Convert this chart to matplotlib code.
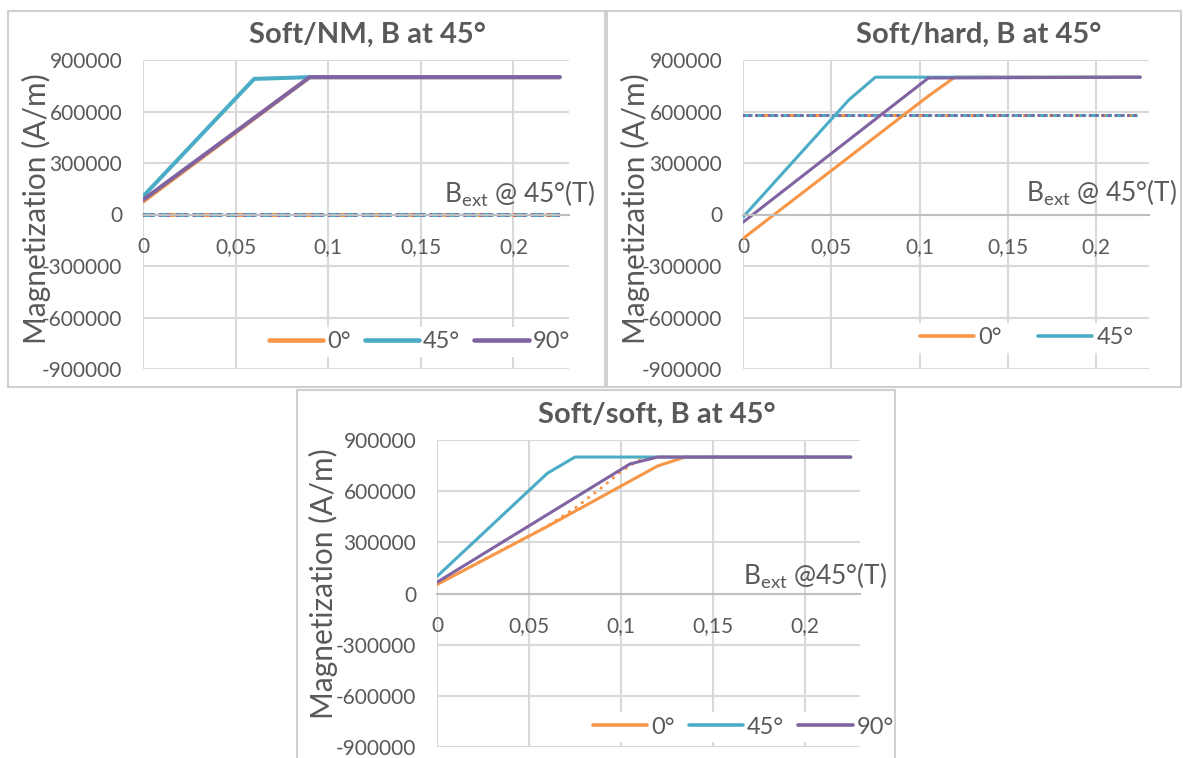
import matplotlib
matplotlib.use("Agg")
import matplotlib.pyplot as plt
from matplotlib.patches import Rectangle

plt.rcParams['font.family'] = ['Lato', 'DejaVu Sans']
plt.rcParams['mathtext.fontset'] = 'custom'
plt.rcParams['mathtext.rm'] = 'Lato'
plt.rcParams['mathtext.it'] = 'Lato'

GRIS = "#595959"
REJILLA = "#D9D9D9"
NARANJA = "#F79646"
TURQUESA = "#4BACC6"
MORADO = "#8064A2"

# Soft/NM
nm_x0 = [0, 0.09, 0.225]
nm_y0 = [75000, 800000, 800000]
nm_x45 = [0, 0.06, 0.09, 0.225]
nm_y45 = [105000, 790000, 800000, 800000]
nm_x90 = [0, 0.09, 0.225]
nm_y90 = [85000, 800000, 800000]
nm_ref = 0

# Soft/hard
hd_x0 = [0, 0.105, 0.12, 0.225]
hd_y0 = [-140000, 690000, 800000, 800000]
hd_x45 = [0, 0.06, 0.075, 0.225]
hd_y45 = [-15000, 668000, 800000, 800000]
hd_x90 = [0, 0.105, 0.225]
hd_y90 = [-45000, 795000, 800000]
hd_ref = 580000

# Soft/soft
sf_x0 = [0, 0.06, 0.12, 0.135, 0.225]
sf_y0 = [53000, 393000, 748000, 800000, 800000]
sf_x0b = [0, 0.06, 0.075, 0.09, 0.1, 0.105, 0.112, 0.12, 0.225]
sf_y0b = [53000, 395000, 500000, 625000, 715000, 750000, 795000, 800000, 800000]
sf_x45 = [0, 0.06, 0.075, 0.225]
sf_y45 = [100000, 705000, 800000, 800000]
sf_x90 = [0, 0.105, 0.12, 0.225]
sf_y90 = [66000, 760000, 800000, 800000]

ejex = [0, 0.05, 0.1, 0.15, 0.2]
ejex_txt = ["0", "0,05", "0,1", "0,15", "0,2"]
ejey = [-900000, -600000, -300000, 0, 300000, 600000, 900000]
ejey_txt = ["-900000", "-600000", "-300000", "0", "300000", "600000", "900000"]

W, H = 1183, 758
fig = plt.figure(figsize=(W / 100, H / 100), dpi=100)


def fx(px):
	return px / W


def fy(py):
	return 1 - py / H


# marcos de cada grafico
for (x1, y1, x2, y2) in [(8, 11, 605, 387), (607, 11, 1181, 387), (297, 390, 895, 770)]:
	fig.add_artist(Rectangle((fx(x1), fy(y2)), fx(x2 - x1), (y2 - y1) / H,
		transform=fig.transFigure, fill=False, edgecolor="#D0D0D0", lw=1.5))


def grafico(caja, titulo, tpos, ypos, bpos, btxt, series, ref, lw, leg, colsp, nleg):
	ax = fig.add_axes([fx(caja[0]), fy(caja[3]), fx(caja[2] - caja[0]), (caja[3] - caja[1]) / H])
	ax.set_xlim(0, 0.23)
	ax.set_ylim(-900000, 900000)
	ax.set_xticks(ejex, ejex_txt)
	ax.set_yticks(ejey, ejey_txt)
	ax.grid(True, color=REJILLA, lw=1.5)
	ax.set_axisbelow(True)
	for s in ["top", "right", "left"]:
		ax.spines[s].set_visible(False)
	ax.spines["bottom"].set_position(("data", 0))
	ax.spines["bottom"].set_color("#BFBFBF")
	ax.spines["bottom"].set_linewidth(1.5)
	ax.tick_params(axis="both", length=0, labelsize=15, labelcolor=GRIS)
	ax.tick_params(axis="x", pad=16)
	ax.tick_params(axis="y", pad=15)

	if ref is not None:
		xr = [0, 0.225]
		ax.plot(xr, [ref, ref], color=TURQUESA, lw=lw, ls=(0, (3, 1.2)))
		ax.plot(xr, [ref, ref], color=NARANJA, lw=lw, ls=(2, (1.5, 7)))
		ax.plot(xr, [ref, ref], color=MORADO, lw=lw, ls=(0, (0.1, 2.0)), dash_capstyle="round")

	lineas = []
	for (xs, ys, c, nombre, estilo) in series:
		if estilo == "punteado":
			ax.plot(xs, ys, color=c, lw=lw, ls=(0, (0.1, 2.5)), dash_capstyle="round")
		else:
			l, = ax.plot(xs, ys, color=c, lw=lw, label=nombre, solid_capstyle="round")
			lineas.append(l)

	lg = ax.legend(lineas[:nleg], [l.get_label() for l in lineas[:nleg]], ncol=nleg,
		loc="center left", bbox_to_anchor=(fx(leg[0]), fy(leg[1])), bbox_transform=fig.transFigure,
		frameon=True, facecolor="white", edgecolor="none", framealpha=1, fancybox=False,
		fontsize=17, handlelength=2.3, handletextpad=0.17, columnspacing=colsp,
		borderpad=0.2, borderaxespad=0)
	for t in lg.get_texts():
		t.set_color(GRIS)
	for h in lg.get_lines():
		h.set_linewidth(lw + 0.4)

	fig.text(fx(tpos[0]), fy(tpos[1]), titulo, ha="center", va="center", fontsize=21,
		fontweight="bold", color=GRIS)
	fig.text(fx(ypos[0]), fy(ypos[1]), "Magnetization (A/m)", ha="center", va="center",
		rotation=90, fontsize=21.5, color=GRIS)
	fig.text(fx(bpos[0]), fy(bpos[1]), btxt, ha="right", va="baseline", fontsize=19, color=GRIS)
	return ax


grafico((143, 60, 569, 369), "Soft/NM, B at 45°", (367, 35), (36, 209), (595, 203),
	r"B$_{\rm ext}$ @ 45°(T)",
	[(nm_x0, nm_y0, NARANJA, "0°", "linea"), (nm_x45, nm_y45, TURQUESA, "45°", "linea"),
	 (nm_x90, nm_y90, MORADO, "90°", "linea")],
	nm_ref, 2.9, (264, 342), 0.6, 3)

grafico((743, 60, 1149, 369), "Soft/hard, B at 45°", (979, 35), (635, 209), (1177, 202),
	r"B$_{\rm ext}$ @ 45°(T)",
	[(hd_x0, hd_y0, NARANJA, "0°", "linea"), (hd_x45, hd_y45, TURQUESA, "45°", "linea"),
	 (hd_x90, hd_y90, MORADO, "90°", "linea")],
	hd_ref, 2.2, (915, 338), 1.55, 2)

grafico((437, 440, 860, 747), "Soft/soft, B at 45°", (657, 415), (323, 584), (887, 585),
	r"B$_{\rm ext}$ @45°(T)",
	[(sf_x0, sf_y0, NARANJA, "0°", "linea"), (sf_x0b, sf_y0b, NARANJA, "", "punteado"),
	 (sf_x45, sf_y45, TURQUESA, "45°", "linea"), (sf_x90, sf_y90, MORADO, "90°", "linea")],
	None, 2.2, (588, 727), 0.6, 3)

fig.savefig("out.png", dpi=100)
